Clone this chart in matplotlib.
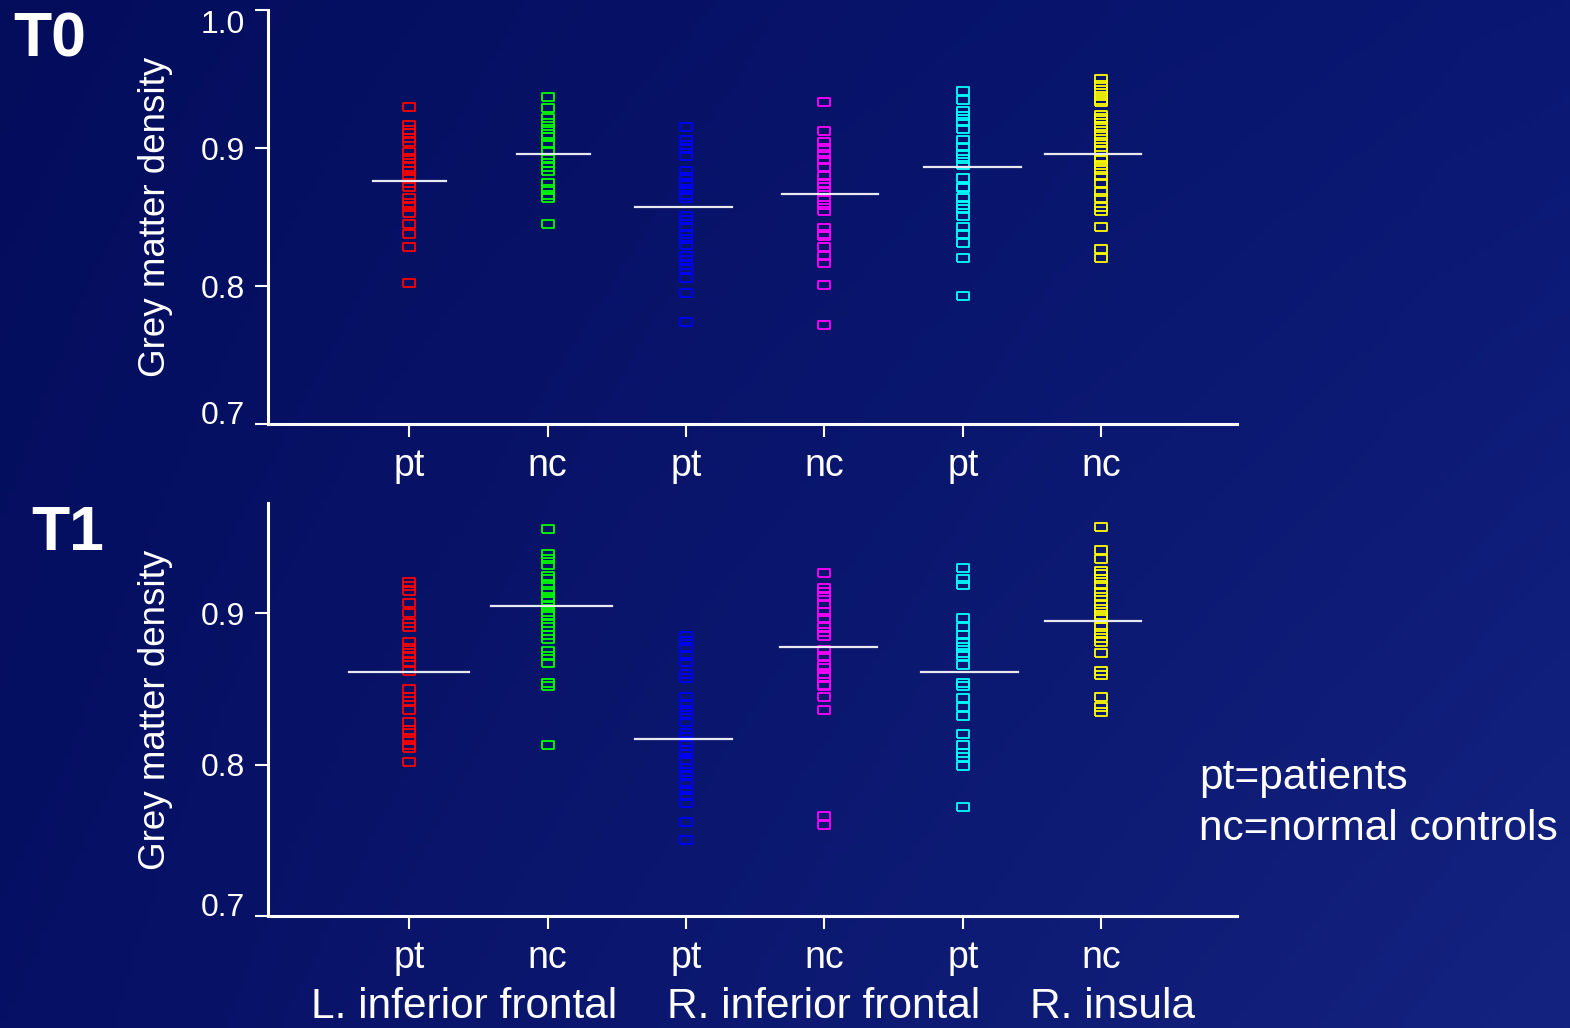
import numpy as np
import matplotlib
matplotlib.use("Agg")
import matplotlib.pyplot as plt

plt.rcParams['font.family'] = ['Liberation Sans', 'DejaVu Sans']

# groups along the x axis
group_ticks = ['pt', 'nc', 'pt', 'nc', 'pt', 'nc']
regions = ['L. inferior frontal', 'R. inferior frontal', 'R. insula']
colors = ['#ff0000', '#00ff00', '#0000ff', '#ff00ff', '#00ffff', '#ffff00']

# T0 grey matter density, one list per group
t0_lif_pt = [0.930, 0.917, 0.913, 0.911, 0.907, 0.904, 0.897, 0.893, 0.889, 0.886, 0.883,
             0.879, 0.875, 0.872, 0.864, 0.860, 0.857, 0.853, 0.845, 0.838, 0.828, 0.802]
t0_lif_nc = [0.937, 0.929, 0.922, 0.918, 0.914, 0.910, 0.908, 0.903, 0.898, 0.893, 0.889,
             0.886, 0.883, 0.875, 0.870, 0.866, 0.864, 0.845]
t0_rif_pt = [0.915, 0.906, 0.902, 0.899, 0.894, 0.883, 0.879, 0.875, 0.874, 0.870, 0.866,
             0.864, 0.851, 0.848, 0.843, 0.838, 0.834, 0.830, 0.822, 0.819, 0.815, 0.812,
             0.806, 0.795, 0.774]
t0_rif_nc = [0.933, 0.912, 0.904, 0.900, 0.896, 0.891, 0.886, 0.880, 0.875, 0.872, 0.868,
             0.862, 0.859, 0.854, 0.842, 0.838, 0.836, 0.828, 0.822, 0.817, 0.801, 0.772]
t0_rins_pt = [0.941, 0.935, 0.927, 0.923, 0.919, 0.914, 0.906, 0.901, 0.896, 0.892, 0.888,
              0.878, 0.872, 0.871, 0.864, 0.859, 0.856, 0.851, 0.843, 0.838, 0.831, 0.820, 0.793]
t0_rins_nc = [0.950, 0.946, 0.942, 0.938, 0.935, 0.933, 0.924, 0.922, 0.920, 0.916, 0.912,
              0.909, 0.904, 0.901, 0.898, 0.893, 0.891, 0.888, 0.884, 0.880, 0.875, 0.868,
              0.864, 0.857, 0.854, 0.843, 0.827, 0.820]
t0_means = [0.876, 0.896, 0.857, 0.867, 0.886, 0.896]

# T1 grey matter density
t1_lif_pt = [0.921, 0.918, 0.915, 0.907, 0.900, 0.894, 0.891, 0.881, 0.877, 0.874, 0.871,
             0.868, 0.862, 0.850, 0.845, 0.842, 0.836, 0.828, 0.823, 0.821, 0.817, 0.813,
             0.811, 0.802]
t1_lif_nc = [0.956, 0.939, 0.936, 0.932, 0.925, 0.923, 0.919, 0.915, 0.911, 0.908, 0.905,
             0.901, 0.898, 0.894, 0.891, 0.886, 0.883, 0.875, 0.872, 0.867, 0.854, 0.852, 0.813]
t1_rif_pt = [0.885, 0.882, 0.878, 0.872, 0.868, 0.860, 0.857, 0.845, 0.840, 0.836, 0.833,
             0.828, 0.821, 0.818, 0.815, 0.810, 0.807, 0.803, 0.798, 0.795, 0.793, 0.787,
             0.783, 0.779, 0.775, 0.762, 0.750]
t1_rif_nc = [0.927, 0.917, 0.914, 0.911, 0.906, 0.901, 0.897, 0.891, 0.888, 0.885, 0.876,
             0.872, 0.866, 0.864, 0.860, 0.858, 0.853, 0.852, 0.845, 0.836, 0.766, 0.760]
t1_rins_pt = [0.930, 0.923, 0.919, 0.897, 0.891, 0.886, 0.881, 0.878, 0.874, 0.872, 0.866,
              0.854, 0.852, 0.844, 0.838, 0.832, 0.820, 0.813, 0.808, 0.805, 0.799, 0.772]
t1_rins_nc = [0.957, 0.942, 0.936, 0.928, 0.926, 0.923, 0.919, 0.914, 0.911, 0.906, 0.903,
              0.899, 0.896, 0.891, 0.887, 0.884, 0.881, 0.874, 0.862, 0.859, 0.845, 0.838, 0.835]
t1_means = [0.861, 0.905, 0.817, 0.878, 0.861, 0.895]

t0_groups = [t0_lif_pt, t0_lif_nc, t0_rif_pt, t0_rif_nc, t0_rins_pt, t0_rins_nc]
t1_groups = [t1_lif_pt, t1_lif_nc, t1_rif_pt, t1_rif_nc, t1_rins_pt, t1_rins_nc]

fig = plt.figure(figsize=(15.7, 10.28), dpi=100)

# slide background: dark blue diagonal gradient
bg = fig.add_axes([0, 0, 1, 1])
tl = np.array([4, 13, 92]) / 255
tr = np.array([10, 24, 116]) / 255
bl = np.array([6, 16, 100]) / 255
br = np.array([20, 35, 128]) / 255
u = np.linspace(0, 1, 200)[None, :, None]
v = np.linspace(0, 1, 140)[:, None, None]
grad = (1 - v) * ((1 - u) * tl + u * tr) + v * ((1 - u) * bl + u * br)
bg.imshow(grad, aspect='auto', extent=[0, 1, 0, 1])
bg.axis('off')

rect = [(-1.5, -1), (1.5, -1), (1.5, 1), (-1.5, 1), (-1.5, -1)]


def panel(ax, groups, means, halfw, shift, ymax, yticks):
    for i, vals in enumerate(groups):
        x = np.full(len(vals), i + 1)
        ax.plot(x, vals, linestyle='none', marker=rect, markersize=8.0,
                markerfacecolor='none', markeredgecolor=colors[i], markeredgewidth=1.3)
        c = i + 1 + shift[i]
        ax.plot([c - halfw[i], c + halfw[i]], [means[i], means[i]],
                color='#e8e8f0', lw=1.6, zorder=5)
    ax.set_xlim(-0.02, 6.98)
    ax.set_ylim(0.7, ymax)
    ax.set_facecolor('none')
    for s in ['top', 'right']:
        ax.spines[s].set_visible(False)
    for s in ['left', 'bottom']:
        ax.spines[s].set_color('white')
        ax.spines[s].set_linewidth(2.2)
    ax.set_xticks(range(1, 7))
    ax.set_xticklabels(group_ticks, fontsize=27, color='white')
    ax.set_yticks(yticks)
    ax.set_yticklabels(['%.1f' % t for t in yticks], fontsize=23, color='white')
    ax.tick_params(axis='y', length=9.5, width=1.5, color='white', pad=7)
    ax.tick_params(axis='x', length=9, width=1.5, color='white', pad=8)
    ax.set_ylabel('Grey matter density', fontsize=26.5, color='white', labelpad=20)
    # end labels sit inside the axis range, as on the slide
    labs = ax.get_yticklabels()
    labs[0].set_va('baseline')
    if yticks[-1] == 1.0:
        labs[-1].set_va('top')


ax1 = fig.add_axes([268 / 1570, 1 - 424 / 1028, 969 / 1570, 414 / 1028])
panel(ax1, t0_groups, t0_means, [0.264, 0.264, 0.35, 0.35, 0.35, 0.35],
      [0, 0.04, -0.02, 0.04, 0.07, -0.06], 1.0, [0.7, 0.8, 0.9, 1.0])
ax2 = fig.add_axes([268 / 1570, 1 - 916 / 1028, 969 / 1570, 413 / 1028])
panel(ax2, t1_groups, t1_means, [0.434, 0.437, 0.35, 0.35, 0.35, 0.35],
      [0, 0.03, -0.02, 0.03, 0.05, -0.06], 0.973, [0.7, 0.8, 0.9])

fig.text(13 / 1570, 1 - 40 / 1028, 'T0', fontsize=45, fontweight='bold', color='white',
         ha='left', va='center')
fig.text(31 / 1570, 1 - 533 / 1028, 'T1', fontsize=45, fontweight='bold', color='white',
         ha='left', va='center')

for cx, name in zip([464, 824, 1113], regions):
    fig.text(cx / 1570, 1 - 1007 / 1028, name, fontsize=30.5, color='white',
             ha='center', va='center')

fig.text(1199 / 1570, 1 - 778 / 1028, 'pt=patients', fontsize=30.5, color='white',
         ha='left', va='center')
fig.text(1199 / 1570, 1 - 829 / 1028, 'nc=normal controls', fontsize=30.5, color='white',
         ha='left', va='center')

fig.savefig('out.png', dpi=100)
